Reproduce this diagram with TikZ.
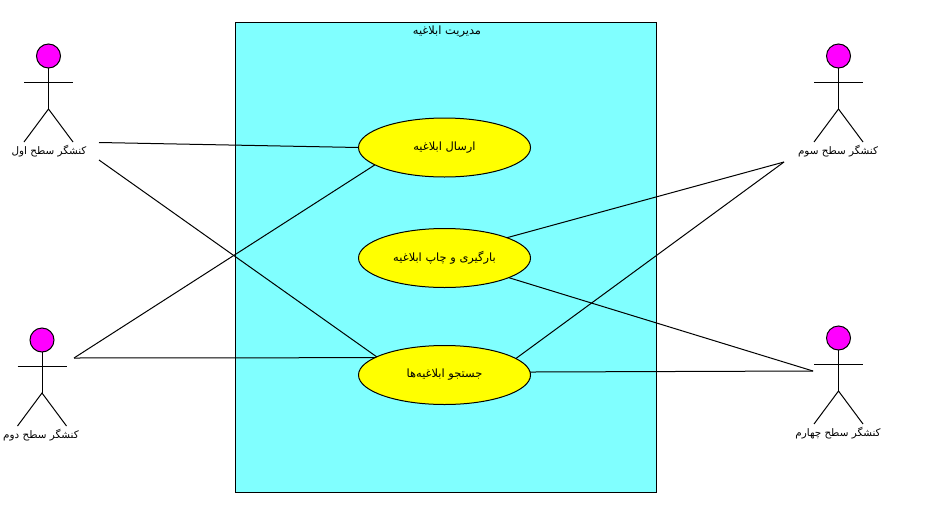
\documentclass[tikz,border=0pt]{standalone}
\usepackage{fontspec}
\usetikzlibrary{shapes.geometric}
\TeXXeTstate=1
\newfontfamily\arabicfont[Script=Arabic]{DejaVu Sans}
\definecolor{boxcyan}{HTML}{80FFFF}
\definecolor{headpink}{HTML}{FF00FF}
\definecolor{casefill}{HTML}{FFFF00}
\newcommand{\fatxt}[1]{\raisebox{-1pt}{\arabicfont\fontsize{11.4}{13}\selectfont\beginR #1\endR}}
\newcommand{\actxt}[1]{\raisebox{-1pt}{\arabicfont\fontsize{10.4}{12}\selectfont\beginR #1\endR}}
\tikzset{
  conn/.style={draw=black,line width=1pt},
  usecase/.style={shape=ellipse,draw=black,line width=1pt,fill=casefill,minimum width=172pt,minimum height=59pt,inner sep=0pt,outer sep=0pt},
  head/.style={shape=circle,draw=black,line width=1pt,fill=headpink,minimum size=24pt,inner sep=0pt,outer sep=0pt},
  label/.style={inner sep=0pt,outer sep=0pt,text=black},
  system/.style={draw=black,line width=1pt,fill=boxcyan},
  pics/stickman/.style args={#1/#2}{code={
    \draw[conn] (0,12) -- (0,#1);
    \draw[conn] (-24.5,26) -- (24.5,26);
    \draw[conn] (-24.5,#2) -- (0,#1) -- (24.5,#2);
  }}
}
\begin{document}
\begin{tikzpicture}[x=1pt,y=-1pt]
\useasboundingbox (0,0) rectangle (944,525);
\draw[system] (235.5,22.5) rectangle (656.5,492);
\node[label] (title) at (447,32) {\fatxt{مدیریت ابلاغیه}};

\node[usecase] (u1) at (444.5,147.5) {\fatxt{ارسال ابلاغیه}};
\node[usecase] (u2) at (444.5,258) {\fatxt{بارگیری و چاپ ابلاغیه}};
\node[usecase] (u3) at (444.5,375) {\fatxt{جستجو ابلاغیه‌ها}};

\pic at (48.5,56) {stickman=53/86};
\node[head] (h1) at (48.5,56) {};
\node[label] (l1) at (49,151.5) {\actxt{کنشگر سطح اول}};

\pic at (42,340) {stickman=53/86};
\node[head] (h2) at (42,340) {};
\node[label] (l2) at (41,435.5) {\actxt{کنشگر سطح دوم}};

\pic at (838.5,56) {stickman=53/86};
\node[head] (h3) at (838.5,56) {};
\node[label] (l3) at (838,151.5) {\actxt{کنشگر سطح سوم}};

\pic at (838.5,338) {stickman=53/86};
\node[head] (h4) at (838.5,338) {};
\node[label] (l4) at (838,433.5) {\actxt{کنشگر سطح چهارم}};

\coordinate (a1a) at (99,142.5);
\coordinate (a1b) at (99,160);
\coordinate (a2) at (74,358);
\coordinate (a3) at (784,162);
\coordinate (a4) at (813,371);

\draw[conn] (a1a) -- (u1.west);
\draw[conn] (a1b) -- (u3.165.6);
\draw[conn] (a2) -- (u1.194.6);
\draw[conn] (a2) -- (u3.166.3);
\draw[conn] (a3) -- (u2.18.4);
\draw[conn] (a3) -- (u3.13.6);
\draw[conn] (a4) -- (u2.-17.3);
\draw[conn] (a4) -- (u3.2.7);
\end{tikzpicture}
\end{document}
